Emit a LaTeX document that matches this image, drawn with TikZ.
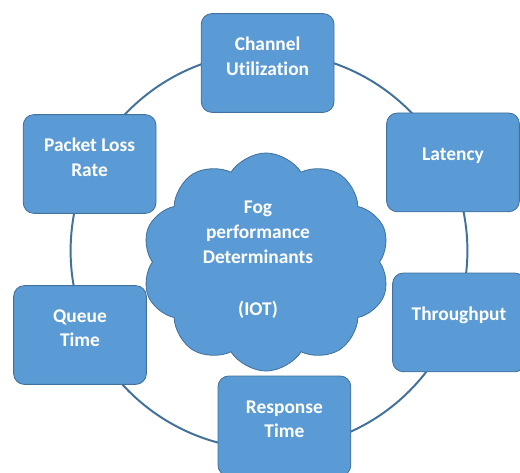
\documentclass[tikz,border=0pt]{standalone}
\usepackage{fontspec}
\setmainfont{Carlito}[Ligatures=NoCommon]
\usetikzlibrary{shapes.symbols}
\definecolor{boxblue}{HTML}{5B9BD5}
\definecolor{edgeblue}{HTML}{41719C}
\begin{document}
\begin{tikzpicture}[
  box/.style={draw=edgeblue, fill=boxblue, line width=0.6pt, rounded corners=0.27cm,
    minimum width=3.32cm, minimum height=2.47cm},
  boxtxt/.style={text=white, font=\bfseries\fontsize{13.8}{17.5}\selectfont, align=center, yshift=0.17cm},
  ring/.style={circle, draw=edgeblue, line width=1.4pt, minimum size=9.92cm, inner sep=0pt},
  fog/.style={cloud, cloud puffs=10, cloud puff arc=115, aspect=1.2, draw=edgeblue, fill=boxblue,
    line width=0.6pt, minimum width=6.2cm, minimum height=5.45cm}
]
\clip (0, 0) rectangle (13, 11.8);
\fill [white] (0, 0) rectangle (13, 11.8);

\node [ring] (ring) at (6.725, 5.53) {};

\node [fog, label={[boxtxt, xshift=-0.2cm, yshift=-0.12cm]center:Fog\\performance\\Determinants\\[0.7cm](IOT)}] (fog) at (6.65, 5.25) {};

\node [box, label={[boxtxt]center:Channel\\Utilization}] (chan) at (6.69, 10.225) {};
\node [box, label={[boxtxt]center:Latency}] (lat) at (11.325, 7.74) {};
\node [box, label={[boxtxt]center:Throughput}] (thr) at (11.475, 3.74) {};
\node [box, minimum height=2.5cm, label={[boxtxt]center:Response\\Time}] (resp) at (7.11, 1.15) {};
\node [box, label={[boxtxt]center:Queue\\Time}] (queue) at (2.0, 3.425) {};
\node [box, label={[boxtxt]center:Packet Loss\\Rate}] (loss) at (2.24, 7.7) {};
\end{tikzpicture}
\end{document}
